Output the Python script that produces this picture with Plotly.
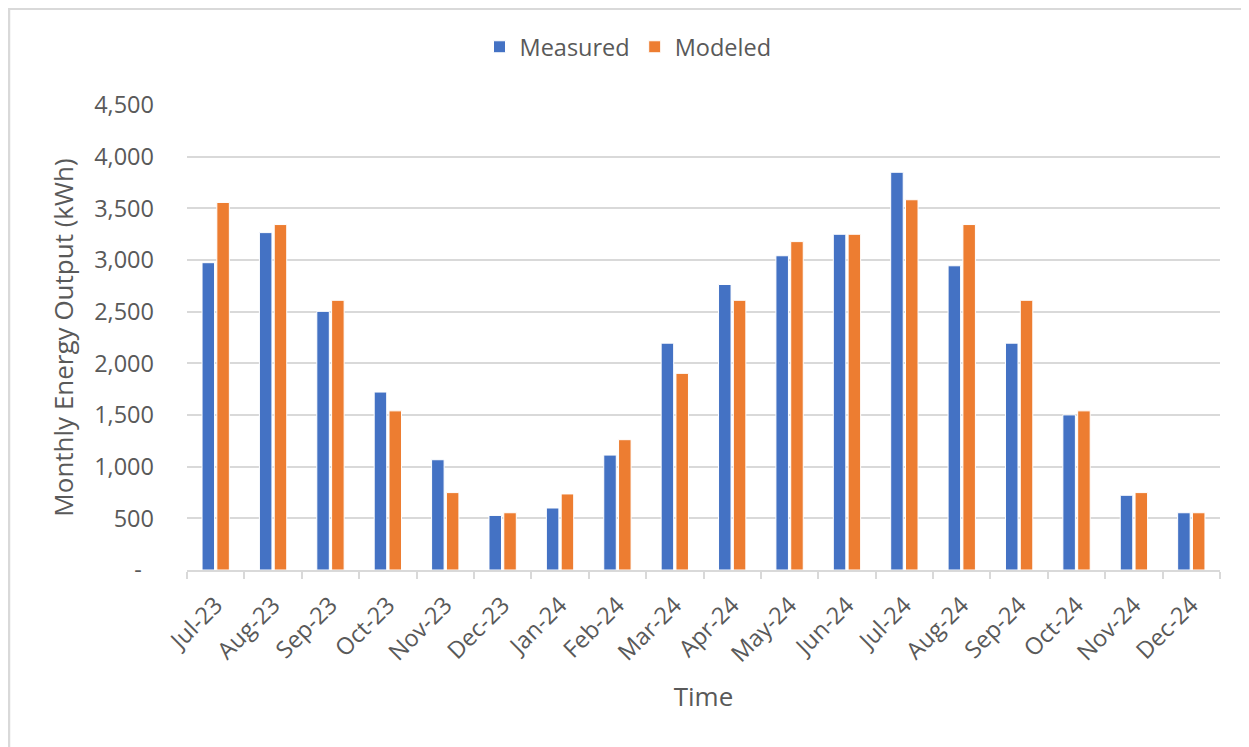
import plotly.graph_objects as go

months = ["Jul-23", "Aug-23", "Sep-23", "Oct-23", "Nov-23", "Dec-23",
          "Jan-24", "Feb-24", "Mar-24", "Apr-24", "May-24", "Jun-24",
          "Jul-24", "Aug-24", "Sep-24", "Oct-24", "Nov-24", "Dec-24"]
measured = [2974, 3265, 2503, 1722, 1067, 528, 600, 1112, 2195, 2763, 3041, 3249,
            3849, 2944, 2195, 1501, 723, 554]
modeled = [3557, 3343, 2610, 1540, 749, 554, 736, 1261, 1903, 2610, 3178, 3249,
           3583, 3343, 2610, 1540, 749, 554]
y_tickvals = [0, 500, 1000, 1500, 2000, 2500, 3000, 3500, 4000, 4500]
y_ticktext = ["-\u00a0\u00a0", "500", "1,000", "1,500", "2,000", "2,500",
              "3,000", "3,500", "4,000", "4,500"]

BLUE = "#4472C4"
ORANGE = "#ED7D31"
GRID = "#D9D9D9"
TXT = "#595959"
FONT = "Open Sans"

# page is offset by the 8px body margin, so work in page pixels and shift
OFF = 8
FW, FH = 1249 - OFF, 747 - OFF

fig = go.Figure()
fig.add_trace(go.Bar(x=months, y=measured, name="Measured",
                     marker=dict(color=BLUE, line=dict(color="white", width=1))))
fig.add_trace(go.Bar(x=months, y=modeled, name="Modeled",
                     marker=dict(color=ORANGE, line=dict(color="white", width=1))))

# plot area in page pixels: x 187..1220, y 105..570
L, R, T, B = 187, 1220, 105, 570
W, H = R - L, B - T

def px(x):
    return (x - L) / W

def py(y):
    return (B - y) / H

fig.update_layout(
    width=FW, height=FH,
    margin=dict(l=L - OFF, r=1249 - R, t=T - OFF, b=747 - B, autoexpand=False),
    paper_bgcolor="white", plot_bgcolor="white",
    font=dict(family=FONT, size=23.5, color=TXT),
    barmode="group", bargap=0.484, bargroupgap=0.155,
    showlegend=True,
    legend=dict(orientation="h", x=px(628), xanchor="center",
                y=py(47), yanchor="middle",
                font=dict(size=23.5, color=TXT), itemwidth=30,
                bgcolor="rgba(0,0,0,0)"),
    xaxis=dict(
        type="category", tickangle=-45,
        showline=True, linecolor=GRID, linewidth=2,
        ticks="outside", tickson="boundaries", ticklen=7, tickcolor=GRID, tickwidth=2,
        showgrid=False, tickfont=dict(size=23.5, color=TXT), ticklabelstandoff=10,
        title=dict(text="Time", font=dict(size=26, color=TXT), standoff=20),
        automargin=False,
    ),
    yaxis=dict(
        range=[0, 4500], tickvals=y_tickvals, ticktext=y_ticktext,
        showgrid=True, gridcolor=GRID, gridwidth=2, zeroline=False,
        showline=False, ticks="", ticklabelstandoff=32,
        tickfont=dict(size=23.5, color=TXT),
        title=dict(text="Monthly Energy Output (kWh)", font=dict(size=26, color=TXT), standoff=13),
        automargin=False,
    ),
    shapes=[
        dict(type="line", xref="paper", yref="paper",
             x0=px(9), x1=px(9), y0=py(8), y1=py(760),
             line=dict(color=GRID, width=2.5)),
        dict(type="line", xref="paper", yref="paper",
             x0=px(8), x1=px(1260), y0=py(9), y1=py(9),
             line=dict(color=GRID, width=2)),
    ],
)

fig.write_html("out.html")
